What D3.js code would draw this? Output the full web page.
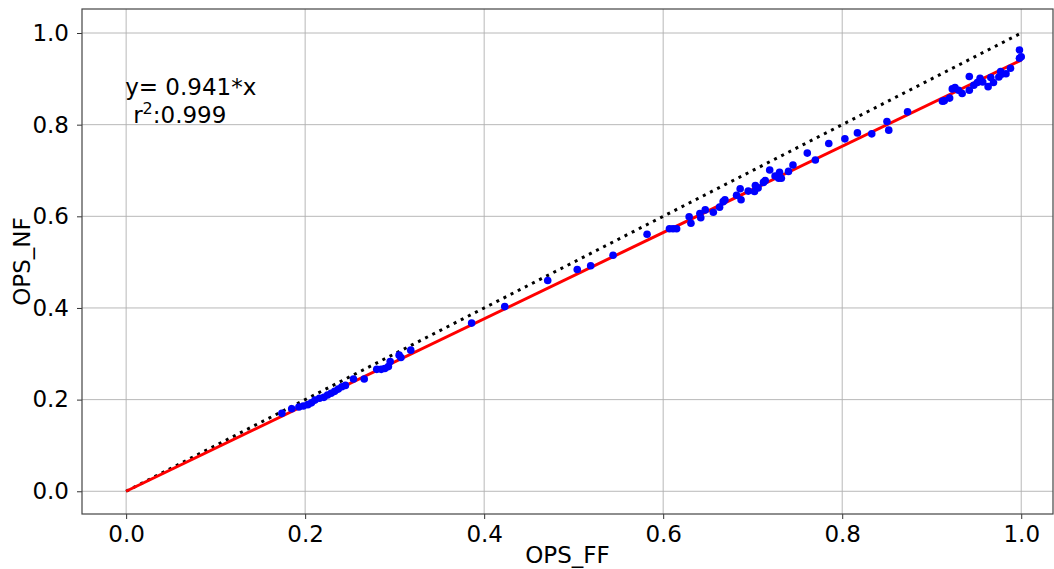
<!DOCTYPE html>
<html>
<head>
<meta charset="utf-8">
<script src="https://cdn.jsdelivr.net/npm/d3@7"></script>
<style>
  body { margin: 0; background: #fff; }
  text { font-family: "DejaVu Sans", sans-serif; fill: #000; }
</style>
</head>
<body>
<div class="main"></div>
<script>
const WIDTH = 1054;
const HEIGHT = 569;

// OPS (full field) vs OPS (no field) per player
const opsFF = [
    0.174, 0.185, 0.193, 0.198, 0.203, 0.207, 0.211, 0.216, 0.221, 0.225,
    0.229, 0.233, 0.237, 0.241, 0.245, 0.254, 0.266, 0.280, 0.285, 0.289,
    0.293, 0.295, 0.305, 0.307, 0.318,
    0.386, 0.423, 0.471, 0.504, 0.519, 0.544,
    0.582, 0.607, 0.611, 0.615, 0.629, 0.631, 0.641, 0.642, 0.647, 0.656,
    0.663, 0.667, 0.669, 0.682, 0.686, 0.687, 0.695, 0.702, 0.703, 0.706,
    0.712, 0.714, 0.719, 0.725, 0.730, 0.729, 0.732, 0.740, 0.745, 0.761,
    0.770, 0.785, 0.803, 0.817, 0.833, 0.850, 0.852, 0.873,
    0.912, 0.914, 0.920, 0.923, 0.926, 0.930, 0.934, 0.942, 0.942, 0.947,
    0.951, 0.954, 0.957, 0.963, 0.966, 0.969, 0.975, 0.977, 0.978, 0.983,
    0.988, 0.998, 0.998, 1.000
];
const opsNF = [
    0.170, 0.180, 0.184, 0.186, 0.189, 0.193, 0.199, 0.203, 0.205, 0.210,
    0.214, 0.218, 0.223, 0.228, 0.231, 0.245, 0.245, 0.266, 0.266, 0.268,
    0.272, 0.283, 0.297, 0.292, 0.308,
    0.367, 0.403, 0.460, 0.484, 0.492, 0.515,
    0.561, 0.573, 0.573, 0.573, 0.599, 0.585, 0.606, 0.597, 0.614, 0.609,
    0.620, 0.632, 0.636, 0.646, 0.660, 0.636, 0.655, 0.654, 0.667, 0.662,
    0.674, 0.678, 0.701, 0.688, 0.696, 0.683, 0.683, 0.698, 0.712, 0.738,
    0.723, 0.759, 0.769, 0.782, 0.780, 0.807, 0.788, 0.828,
    0.851, 0.852, 0.858, 0.878, 0.881, 0.875, 0.868, 0.905, 0.875, 0.886,
    0.892, 0.901, 0.893, 0.883, 0.903, 0.892, 0.904, 0.916, 0.910, 0.911,
    0.923, 0.963, 0.945, 0.948
];
const slope = 0.941;
const r2 = 0.999;
const ticks = [0.0, 0.2, 0.4, 0.6, 0.8, 1.0];

const margin = {left: 82, right: 1, top: 9, bottom: 55};
const FONT = "23px";

var svg = d3.select(".main")
    .append("svg")
        .attr("width", WIDTH)
        .attr("height", HEIGHT);

var x = d3.scaleLinear()
    .domain([-0.0493, 1.0355])
    .range([margin.left, WIDTH - margin.right]);
var y = d3.scaleLinear()
    .domain([-0.0496, 1.0524])
    .range([HEIGHT - margin.bottom, margin.top]);

// grid
var grid = svg.append("g");
grid.selectAll(".gx")
    .data(ticks)
    .join("line")
    .attr("x1", d => x(d)).attr("x2", d => x(d))
    .attr("y1", y.range()[0]).attr("y2", y.range()[1])
    .attr("stroke", "#b0b0b0").attr("stroke-width", 0.9);
grid.selectAll(".gy")
    .data(ticks)
    .join("line")
    .attr("y1", d => y(d)).attr("y2", d => y(d))
    .attr("x1", x.range()[0]).attr("x2", x.range()[1])
    .attr("stroke", "#b0b0b0").attr("stroke-width", 0.9);

// axes
var xAxis = svg.append("g")
    .attr("transform", `translate(0,${HEIGHT - margin.bottom})`)
    .call(d3.axisBottom(x).tickValues(ticks).tickFormat(d3.format(".1f")).tickSize(5).tickPadding(7));
var yAxis = svg.append("g")
    .attr("transform", `translate(${margin.left},0)`)
    .call(d3.axisLeft(y).tickValues(ticks).tickFormat(d3.format(".1f")).tickSize(5).tickPadding(8));
[xAxis, yAxis].forEach(a => {
    a.selectAll("text").style("font-size", FONT).attr("fill", "#000");
    a.select(".domain").remove();
    a.selectAll(".tick line").attr("stroke", "#333");
});

// frame
svg.append("rect")
    .attr("x", x.range()[0]).attr("y", y.range()[1])
    .attr("width", x.range()[1] - x.range()[0])
    .attr("height", y.range()[0] - y.range()[1])
    .attr("fill", "none").attr("stroke", "#444").attr("stroke-width", 1.2);

var plot = svg.append("g");

// 1:1 reference line
plot.append("line")
    .attr("x1", x(0)).attr("y1", y(0))
    .attr("x2", x(1)).attr("y2", y(1))
    .attr("stroke", "#000").attr("stroke-width", 3)
    .attr("stroke-dasharray", "3,5");

// fitted line
plot.append("line")
    .attr("x1", x(0)).attr("y1", y(0))
    .attr("x2", x(1)).attr("y2", y(slope))
    .attr("stroke", "red").attr("stroke-width", 3);

plot.selectAll(".pt")
    .data(d3.range(opsFF.length))
    .join("circle")
    .attr("class", "pt")
    .attr("cx", i => x(opsFF[i]))
    .attr("cy", i => y(opsNF[i]))
    .attr("r", 3.8)
    .attr("fill", "#0000ff");

// annotation
svg.append("text")
    .attr("x", x(0) - 1).attr("y", 95)
    .style("font-size", FONT)
    .text(`y= ${slope}*x`);
var r2t = svg.append("text")
    .attr("x", x(0) + 7).attr("y", 123)
    .style("font-size", FONT);
r2t.append("tspan").text("r");
r2t.append("tspan").attr("dy", -9).style("font-size", "16px").text("2");
r2t.append("tspan").attr("dy", 9).text(`:${r2}`);

// axis labels
svg.append("text")
    .attr("x", (x.range()[0] + x.range()[1]) / 2)
    .attr("y", 563)
    .attr("text-anchor", "middle")
    .style("font-size", FONT)
    .text("OPS_FF");
svg.append("text")
    .attr("transform", `translate(30,${(y.range()[0] + y.range()[1]) / 2}) rotate(-90)`)
    .attr("text-anchor", "middle")
    .style("font-size", FONT)
    .text("OPS_NF");
</script>
</body>
</html>
